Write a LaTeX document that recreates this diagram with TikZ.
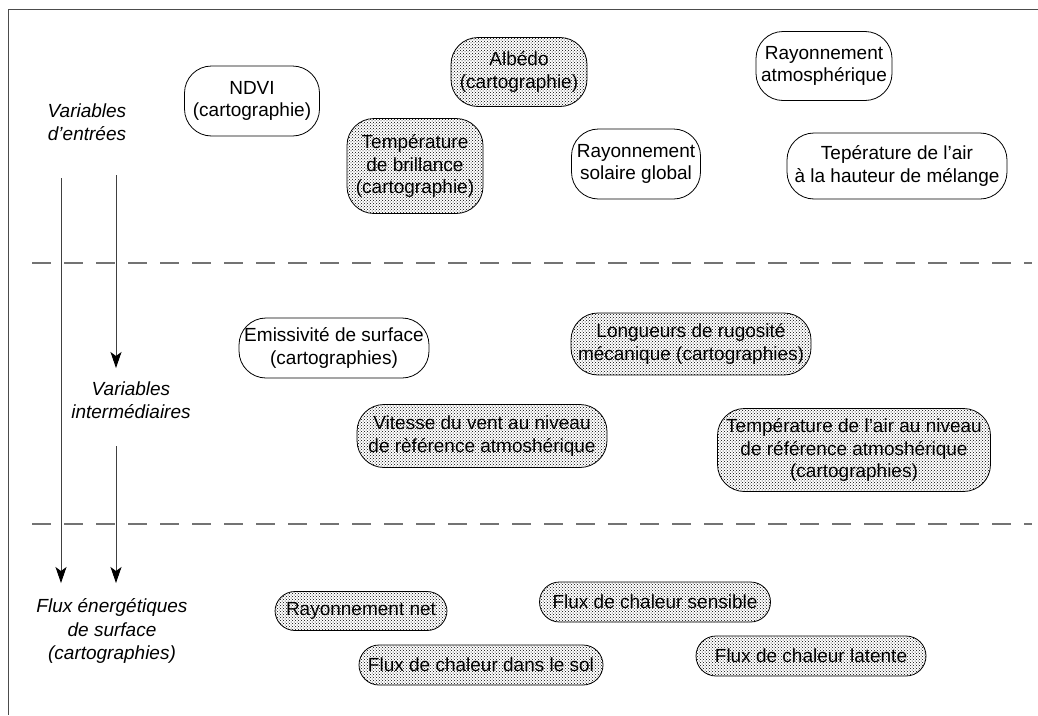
\documentclass[tikz,border=0pt]{standalone}
\usepackage{fontspec}
\setmainfont{Liberation Sans}
\usetikzlibrary{patterns,arrows.meta}
\begin{document}
\begin{tikzpicture}[x=1pt,y=-1pt,
  every node/.style={font=\fontsize{19}{22.5}\selectfont, align=center, inner sep=0pt},
  plain/.style={draw=black, line width=0.8pt, fill=white, rounded corners=27pt},
  dotbox/.style={draw=black, line width=0.8pt, pattern=crosshatch dots, pattern color=black, rounded corners=27pt},
  flux/.style={dotbox, rounded corners=20pt, minimum height=40pt},
  lab/.style={font=\fontsize{19}{23.5}\selectfont\itshape},
  sep/.style={draw=black!55, line width=1.4pt, dash pattern=on 19pt off 13pt},
  arr/.style={draw=black!75, line width=0.9pt, -{Stealth[length=16pt,width=11pt,inset=4pt,black]}}
]
\useasboundingbox (0,0) rectangle (1038,715);
% frame
\draw[black!70, line width=0.9pt] (1038,9) -- (8,9) -- (8,715);
% separators
\draw[sep] (32,263) -- (1032,263);
\draw[sep] (32,524) -- (1032,524);
% labels
\node[lab] (lin) at (87,122) {Variables\\d’entrées};
\node[lab] (lmid) at (131,400) {Variables\\intermédiaires};
\node[lab] (lout) at (112,631) {Flux énergétiques\\de surface\\(cartographies)};
% arrow coordinates
\coordinate (a1s) at (61,178);
\coordinate (a1e) at (61,583);
\coordinate (a2s) at (116,175);
\coordinate (a2e) at (116,368);
\coordinate (a3s) at (116,446);
\coordinate (a3e) at (116,583);
\draw[arr] (a1s) -- (a1e);
\draw[arr] (a2s) -- (a2e);
\draw[arr] (a3s) -- (a3e);
% input variables
\node[plain, minimum width=135pt, minimum height=70pt] (ndvi) at (252,101) {NDVI\\(cartographie)};
\node[dotbox, minimum width=136pt, minimum height=69pt] (albedo) at (519,72) {Albédo\\(cartographie)};
\node[dotbox, minimum width=136pt, minimum height=95pt] (tbril) at (415,166) {Température\\de brillance\\(cartographie)};
\node[plain, minimum width=129pt, minimum height=70pt] (rsol) at (636,164) {Rayonnement\\solaire global};
\node[plain, minimum width=136pt, minimum height=69pt] (ratm) at (824,66) {Rayonnement\\atmosphérique};
\node[plain, minimum width=220pt, minimum height=66pt] (tair) at (897,166) {Tepérature de l’air\\à la hauteur de mélange};
% intermediate variables
\node[plain, minimum width=190pt, minimum height=60pt] (emis) at (334,348) {Emissivité de surface\\(cartographies)};
\node[dotbox, minimum width=240pt, minimum height=62pt] (rug) at (691,344) {Longueurs de rugosité\\mécanique (cartographies)};
\node[dotbox, minimum width=250pt, minimum height=63pt] (vent) at (482,436) {Vitesse du vent au niveau\\de rèférence atmoshérique};
\node[dotbox, minimum width=273pt, minimum height=83pt] (tref) at (854,450) {Température de l’air au niveau\\de référence atmoshérique\\(cartographies)};
% fluxes
\node[flux, minimum width=172pt, minimum height=39pt] (rnet) at (361,611) {Rayonnement net};
\node[flux, minimum width=231pt] (hsens) at (655,602) {Flux de chaleur sensible};
\node[flux, minimum width=244pt] (gsol) at (481,665) {Flux de chaleur dans le sol};
\node[flux, minimum width=230pt] (lat) at (811,656) {Flux de chaleur latente};
\end{tikzpicture}
\end{document}
